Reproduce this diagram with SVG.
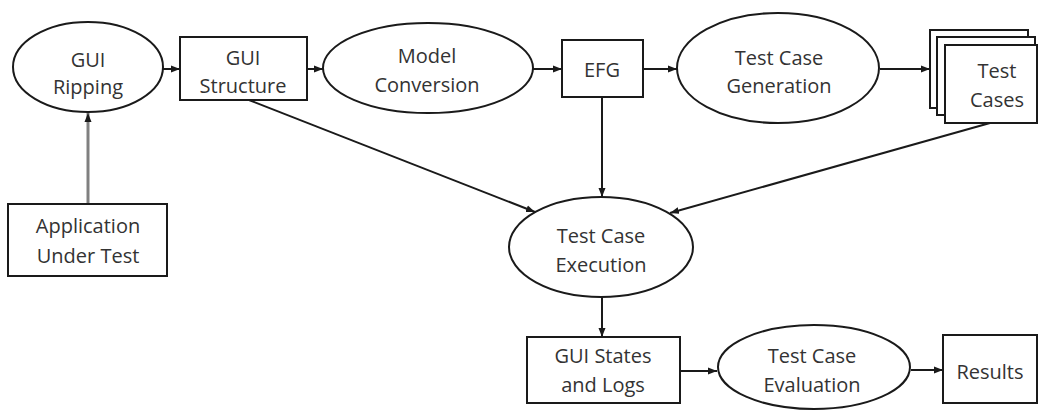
<svg xmlns="http://www.w3.org/2000/svg" width="1040" height="410" viewBox="0 0 1040 410">
<style>
.n{fill:#fff;stroke:#1a1a1a;stroke-width:2}
.t{font-family:"Open Sans","Liberation Sans",sans-serif;font-size:20px;fill:#333;text-anchor:middle}
.c{fill:none;stroke:#1a1a1a;stroke-width:2}
.g{fill:none;stroke:#808080;stroke-width:3}
</style>
<defs>
<marker id="a" markerUnits="userSpaceOnUse" markerWidth="10" markerHeight="8" refX="9" refY="4" orient="auto">
<path d="M0,0.5 L9,4 L0,7.5 Z" fill="#1a1a1a"/>
</marker>
</defs>
<rect width="1040" height="410" fill="#fff"/>
<g id="connectors">
<line class="c" x1="163" y1="69" x2="180" y2="69" marker-end="url(#a)"/>
<line class="c" x1="307" y1="69" x2="323" y2="69" marker-end="url(#a)"/>
<line class="c" x1="533" y1="69" x2="562" y2="69" marker-end="url(#a)"/>
<line class="c" x1="643" y1="69" x2="677" y2="69" marker-end="url(#a)"/>
<line class="c" x1="880" y1="69" x2="930" y2="69" marker-end="url(#a)"/>
<line class="g" x1="88" y1="204" x2="88" y2="113" marker-end="url(#a)"/>
<line class="c" x1="249" y1="100" x2="535" y2="212" marker-end="url(#a)"/>
<line class="c" x1="602" y1="97" x2="602" y2="197" marker-end="url(#a)"/>
<line class="c" x1="990" y1="123" x2="670" y2="213" marker-end="url(#a)"/>
<line class="c" x1="602" y1="297" x2="602" y2="337" marker-end="url(#a)"/>
<line class="c" x1="680" y1="371" x2="717" y2="371" marker-end="url(#a)"/>
<line class="c" x1="911" y1="370" x2="943" y2="370" marker-end="url(#a)"/>
</g>
<g id="gui-ripping">
<ellipse class="n" cx="88" cy="67" rx="75" ry="45"/>
<text class="t" x="88" y="67">GUI</text>
<text class="t" x="88" y="94">Ripping</text>
</g>
<g id="gui-structure">
<rect class="n" x="180" y="37" width="127" height="63"/>
<text class="t" x="243" y="65">GUI</text>
<text class="t" x="243" y="93">Structure</text>
</g>
<g id="model-conversion">
<ellipse class="n" cx="428" cy="68" rx="105" ry="45"/>
<text class="t" x="427" y="63">Model</text>
<text class="t" x="427" y="92">Conversion</text>
</g>
<g id="efg">
<rect class="n" x="562" y="40" width="81" height="57"/>
<text class="t" x="602" y="77">EFG</text>
</g>
<g id="test-case-generation">
<ellipse class="n" cx="778" cy="68" rx="101" ry="55"/>
<text class="t" x="779" y="65">Test Case</text>
<text class="t" x="779" y="93">Generation</text>
</g>
<g id="test-cases">
<rect class="n" x="930" y="30" width="98" height="78"/>
<rect class="n" x="937" y="37" width="98" height="78"/>
<rect class="n" x="945" y="45" width="92" height="78"/>
<text class="t" x="997" y="78">Test</text>
<text class="t" x="997" y="107">Cases</text>
</g>
<g id="application-under-test">
<rect class="n" x="8" y="204" width="159" height="72"/>
<text class="t" x="88" y="233">Application</text>
<text class="t" x="88" y="263">Under Test</text>
</g>
<g id="test-case-execution">
<ellipse class="n" cx="601" cy="247" rx="92" ry="50"/>
<text class="t" x="601" y="243">Test Case</text>
<text class="t" x="601" y="272">Execution</text>
</g>
<g id="gui-states-logs">
<rect class="n" x="527" y="337" width="153" height="66"/>
<text class="t" x="603" y="363">GUI States</text>
<text class="t" x="603" y="392">and Logs</text>
</g>
<g id="test-case-evaluation">
<ellipse class="n" cx="814" cy="367" rx="96" ry="42"/>
<text class="t" x="812" y="363">Test Case</text>
<text class="t" x="812" y="392">Evaluation</text>
</g>
<g id="results">
<rect class="n" x="943" y="335" width="94" height="68"/>
<text class="t" x="990" y="379">Results</text>
</g>
</svg>
